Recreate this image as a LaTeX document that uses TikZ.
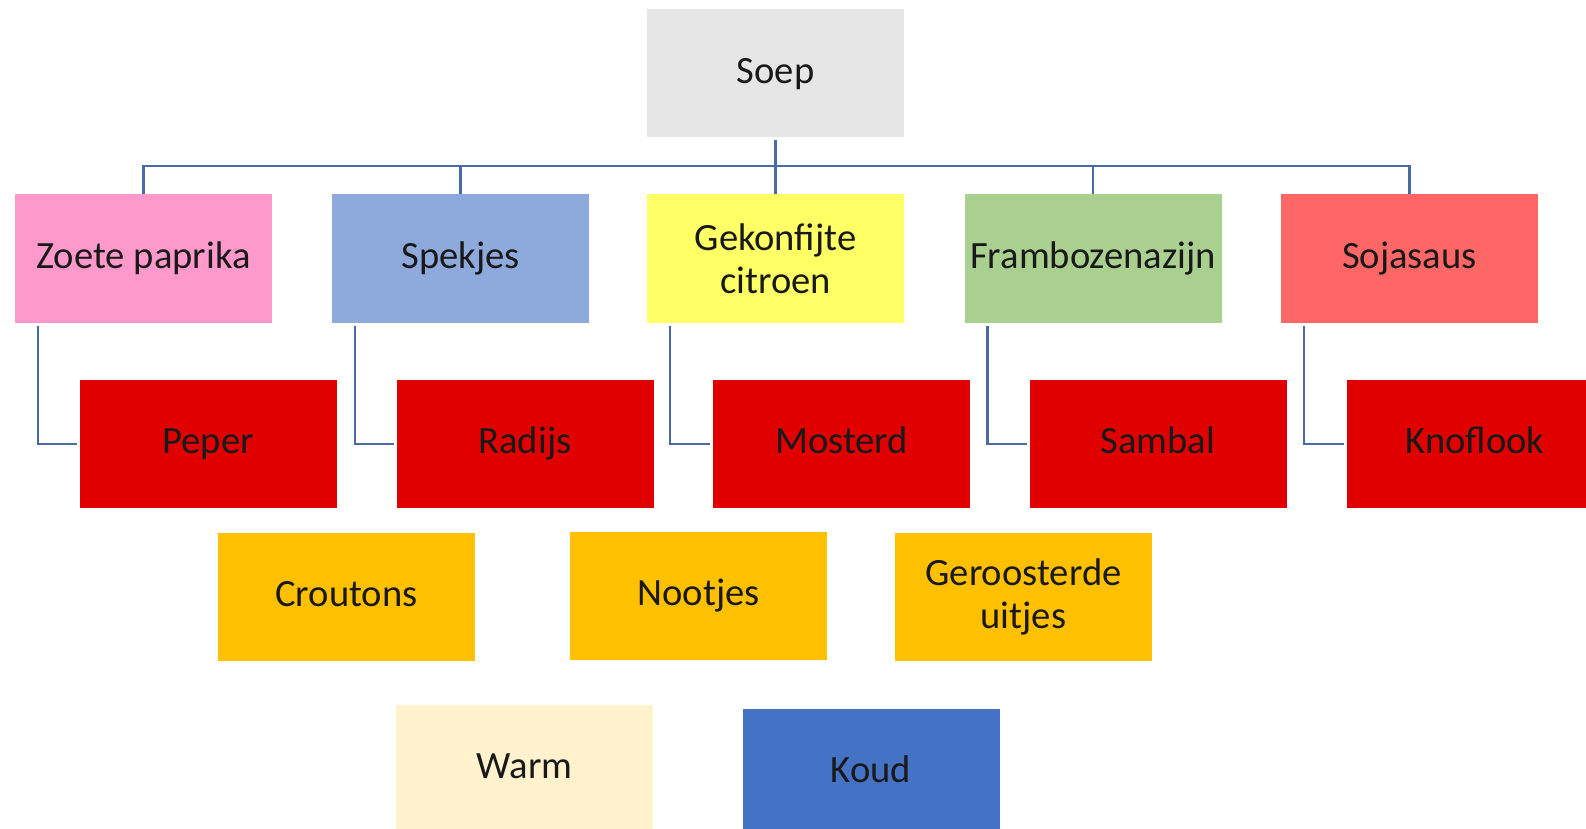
\documentclass[tikz,border=0pt]{standalone}
\usepackage{fontspec}
\setmainfont{Carlito}
\usetikzlibrary{positioning, calc}
\definecolor{soepgrijs}{HTML}{E7E6E6}
\definecolor{roze}{HTML}{FF99CC}
\definecolor{lichtblauw}{HTML}{8EA9DB}
\definecolor{geel}{HTML}{FFFF66}
\definecolor{lichtgroen}{HTML}{A9D08E}
\definecolor{zalm}{HTML}{FF6666}
\definecolor{scherprood}{HTML}{E00000}
\definecolor{oranje}{HTML}{FFC000}
\definecolor{creme}{HTML}{FFF2CC}
\definecolor{koudblauw}{HTML}{4472C4}
\definecolor{lijnblauw}{HTML}{4A6AA5}

\begin{document}
\begin{tikzpicture}[
  x=0.5pt, y=-0.5pt,
  blok/.style={rectangle, minimum width=128.5pt, minimum height=64pt, inner sep=0pt, outer sep=0pt, align=center, text height=1.12em, text depth=0.16em, font=\fontsize{19.3}{21.5}\selectfont, text=black!90},
  tweeregel/.style={text height=, text depth=},
  hoofd/.style={blok, fill=soepgrijs},
  smaak/.style={blok, fill=scherprood},
  topping/.style={blok, fill=oranje},
  lijn/.style={draw=lijnblauw, line width=1.25pt}
]
\fill[white] (0,0) rectangle (1586,829);
\useasboundingbox (0,0) rectangle (1586,829);

\node[hoofd] (soep) at (775.5,73.5) {Soep};

\node[blok, fill=roze] (zoete) at (143.5,258.5) {Zoete paprika};
\node[blok, fill=lichtblauw] (spekjes) at (460.5,258.5) {Spekjes};
\node[blok, tweeregel, fill=geel] (citroen) at (775.5,258.5) {Gekonfijte\\citroen};
\node[blok, fill=lichtgroen] (framboos) at (1093,258.5) {Frambozenazijn};
\node[blok, fill=zalm] (soja) at (1409.5,258.5) {Sojasaus};

\node[smaak] (peper) at (208,444) {Peper};
\node[smaak] (radijs) at (525,444) {Radijs};
\node[smaak] (mosterd) at (841.5,444) {Mosterd};
\node[smaak] (sambal) at (1158,444) {Sambal};
\node[smaak] (knoflook) at (1475,444) {Knoflook};

\node[topping] (croutons) at (346.5,596.5) {Croutons};
\node[topping] (nootjes) at (698.5,595.5) {Nootjes};
\node[topping, tweeregel] (uitjes) at (1023.5,596.5) {Geroosterde\\uitjes};

\node[blok, fill=creme] (warm) at (524.5,769) {Warm};
\node[blok, fill=koudblauw] (koud) at (871,773) {Koud};

\coordinate (bus) at (775.5,166);
\draw[lijn] ($(soep.south)+(0,3)$) -- (bus);
\foreach \n in {zoete, spekjes, citroen, framboos, soja}
  \draw[lijn] (bus) -| (\n.north);

\foreach \boven/\onder in {zoete/peper, spekjes/radijs, citroen/mosterd, framboos/sambal, soja/knoflook}
  \draw[lijn] ($(\boven.south west)+(23,3)$) |- ($(\onder.west)+(-3,0)$);

\end{tikzpicture}
\end{document}
